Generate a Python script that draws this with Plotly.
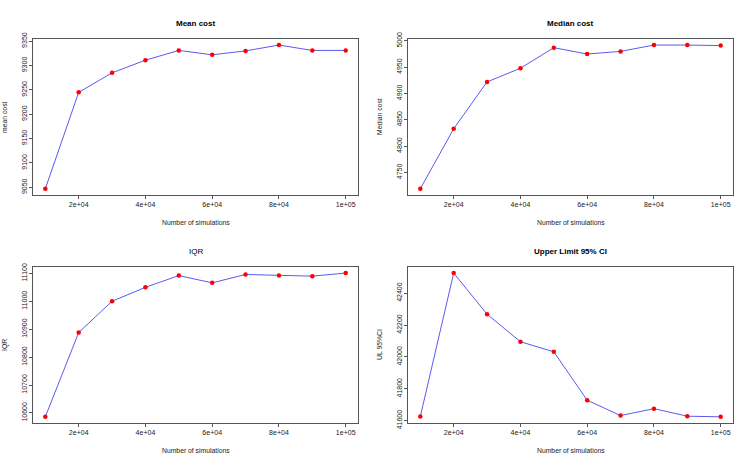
import plotly.graph_objects as go

n_sims = [10000, 20000, 30000, 40000, 50000, 60000, 70000, 80000, 90000, 100000]
mean_cost = [9047, 9245, 9285, 9311, 9331, 9322, 9330, 9342, 9331, 9331]
median_cost = [4719, 4833, 4922, 4948, 4987, 4975, 4980, 4992, 4992, 4991]
iqr = [10586, 10888, 11000, 11050, 11092, 11066, 11096, 11092, 11090, 11101]
ul_ci = [41626, 42526, 42268, 42095, 42032, 41728, 41632, 41675, 41628, 41624]

titles = ["<b>Mean cost</b>", "<b>Median cost</b>", "IQR", "<b>Upper Limit 95% CI</b>"]
ylabels = ["mean cost", "Median cost", "IQR", "UL 95%CI"]
series = [mean_cost, median_cost, iqr, ul_ci]
yticks = [
    [9050, 9100, 9150, 9200, 9250, 9300, 9350],
    [4750, 4800, 4850, 4900, 4950, 5000],
    [10600, 10700, 10800, 10900, 11000, 11100],
    [41600, 41800, 42000, 42200, 42400],
]
xtick_vals = [20000, 40000, 60000, 80000, 100000]
xtick_text = ["2e+04", "4e+04", "6e+04", "8e+04", "1e+05"]

W, H = 750, 471
# panel boxes in pixels (left, right, top, bottom)
boxes = [
    (33.3, 357.7, 33.3, 193.3),
    (408.3, 732.7, 33.3, 193.3),
    (33.3, 357.7, 268.3, 428.3),
    (408.3, 732.7, 268.3, 428.3),
]

fig = go.Figure()
FONT = "Liberation Sans, Arial, sans-serif"
GRAY = "#555555"

xmin, xmax = min(n_sims), max(n_sims)
xpad = 0.04 * (xmax - xmin)

for i in range(4):
    idx = "" if i == 0 else str(i + 1)
    ys = series[i]
    fig.add_trace(go.Scatter(
        x=n_sims, y=ys, mode="lines+markers",
        line=dict(color="#5a5af0", width=1),
        marker=dict(color="#ff0000", size=4.5),
        xaxis="x" + idx, yaxis="y" + idx, showlegend=False,
    ))
    l, r, t, b = boxes[i]
    ymin, ymax = min(ys), max(ys)
    ypad = 0.04 * (ymax - ymin)
    fig.layout["xaxis" + idx] = dict(
        domain=[l / W, r / W], anchor="y" + idx,
        range=[xmin - xpad, xmax + xpad],
        tickvals=xtick_vals, ticktext=xtick_text,
        ticks="outside", ticklen=3, tickcolor=GRAY,
        showline=True, mirror=True, linecolor=GRAY, linewidth=1,
        showgrid=False, zeroline=False,
        tickfont=dict(size=7, color="#222", family=FONT),
    )
    fig.layout["yaxis" + idx] = dict(
        domain=[1 - b / H, 1 - t / H], anchor="x" + idx,
        range=[ymin - ypad, ymax + ypad],
        tickvals=yticks[i], ticktext=[str(v) for v in yticks[i]], tickangle=-90,
        ticks="outside", ticklen=3, tickcolor=GRAY,
        showline=True, mirror=True, linecolor=GRAY, linewidth=1,
        showgrid=False, zeroline=False,
        tickfont=dict(size=7, color="#222", family=FONT),
    )
    cx = (l + r) / 2
    fig.add_annotation(text=titles[i], x=cx / W, y=1 - (t - 16.5) / H,
                       xref="paper", yref="paper", showarrow=False,
                       font=dict(size=8, color="#000", family=FONT),
                       xanchor="center", yanchor="middle")
    fig.add_annotation(text="Number of simulations", x=cx / W, y=1 - (b + 28.5) / H,
                       xref="paper", yref="paper", showarrow=False,
                       font=dict(size=6.8, color="#222", family=FONT),
                       xanchor="center", yanchor="middle")
    fig.add_annotation(text=ylabels[i], x=(l - 28.3) / W, y=1 - ((t + b) / 2) / H,
                       xref="paper", yref="paper", showarrow=False, textangle=-90,
                       font=dict(size=6.8, color="#222", family=FONT),
                       xanchor="center", yanchor="middle")

fig.update_layout(
    width=W, height=H, margin=dict(l=0, r=0, t=0, b=0),
    paper_bgcolor="white", plot_bgcolor="white",
)
fig.write_html("out.html")
